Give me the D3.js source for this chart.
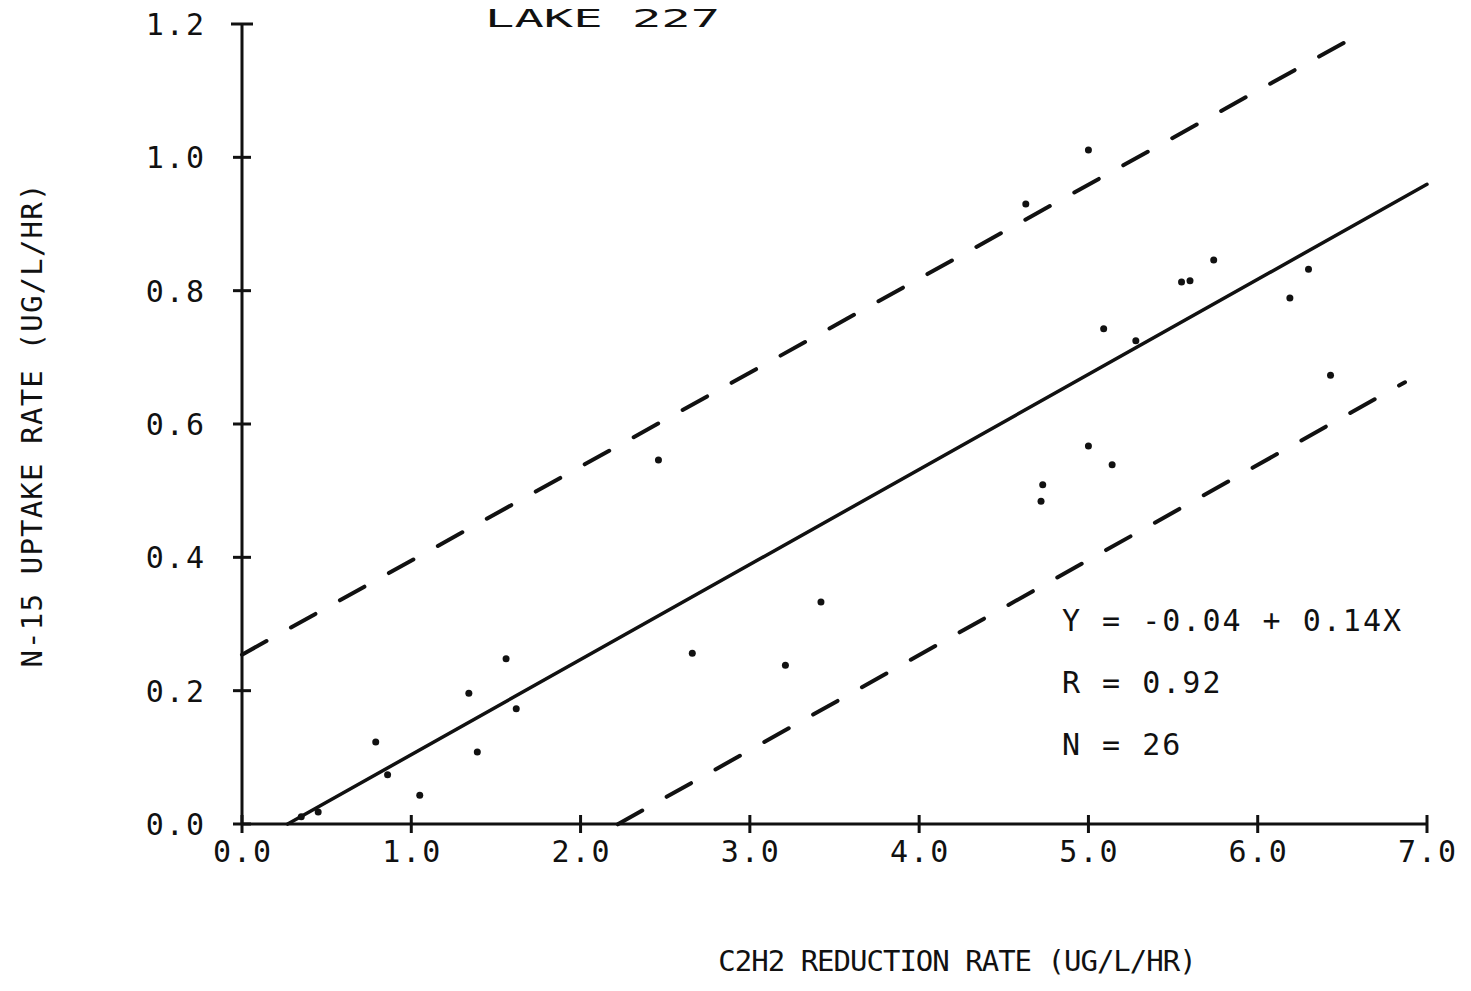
<!DOCTYPE html>
<html>
<head>
<meta charset="utf-8">
<script src="https://cdn.jsdelivr.net/npm/d3@7"></script>
<style>
  body { margin: 0; background: #fff; }
  text { font-family: "DejaVu Sans Mono", monospace; fill: #111; }
</style>
</head>
<body>
<svg id="chart" width="1471" height="991"></svg>
<script>
// data
var xVals = [0.35, 0.45, 0.79, 0.86, 1.05, 1.34, 1.39, 1.56, 1.62,
             2.46, 2.66, 3.21, 3.42,
             4.63, 5.00, 5.74, 5.55, 5.60, 5.09, 5.28, 6.30, 6.19, 6.43,
             5.00, 5.14, 4.73, 4.72]
var yVals = [0.011, 0.018, 0.123, 0.074, 0.043, 0.196, 0.108, 0.248, 0.173,
             0.546, 0.256, 0.238, 0.333,
             0.930, 1.011, 0.846, 0.813, 0.815, 0.743, 0.725, 0.832, 0.789, 0.673,
             0.567, 0.539, 0.509, 0.484]
var xTicks = [0, 1, 2, 3, 4, 5, 6, 7]
var yTicks = [0, 0.2, 0.4, 0.6, 0.8, 1.0, 1.2]

// regression (as drawn) and confidence band
var fit = { a: -0.0386, b: 0.1426, x0: 0.27, x1: 7.0 }
var upper = { a: 0.254, b: 0.141, x0: 0.0, x1: 6.6 }
var lower = { a: -0.317, b: 0.1426, x0: 2.22, x1: 6.87 }
var statLines = ["Y = -0.04 + 0.14X", "R = 0.92", "N = 26"]

var svg = d3.select("#chart")

var x = d3.scaleLinear().domain([0, 7]).range([242, 1427])
var y = d3.scaleLinear().domain([0, 1.2]).range([824, 24])
var fmt = d3.format(".1f")

// y axis
svg.append("line")
  .attr("x1", x(0)).attr("x2", x(0))
  .attr("y1", y(1.2)).attr("y2", y(0))
  .attr("stroke", "#111").attr("stroke-width", 3)

svg.selectAll(".ytick")
  .data(yTicks)
  .enter()
    .append("line")
    .attr("x1", function(d){ return d == 1.2 ? x(0) - 11 : x(0) - 9 })
    .attr("x2", function(d){ return d == 1.2 ? x(0) + 11 : x(0) + 9 })
    .attr("y1", function(d){ return y(d) })
    .attr("y2", function(d){ return y(d) })
    .attr("stroke", "#111").attr("stroke-width", 3)

svg.selectAll(".ylab")
  .data(yTicks)
  .enter()
    .append("text")
    .attr("x", 206)
    .attr("y", function(d){ return y(d) + 11 })
    .attr("text-anchor", "end")
    .attr("font-size", 30)
    .attr("letter-spacing", 2)
    .text(function(d){ return fmt(d) })

// x axis
svg.append("line")
  .attr("x1", x(0)).attr("x2", x(7))
  .attr("y1", y(0)).attr("y2", y(0))
  .attr("stroke", "#111").attr("stroke-width", 3)

svg.selectAll(".xtick")
  .data(xTicks)
  .enter()
    .append("line")
    .attr("x1", function(d){ return x(d) })
    .attr("x2", function(d){ return x(d) })
    .attr("y1", y(0) - 9)
    .attr("y2", y(0) + 9)
    .attr("stroke", "#111").attr("stroke-width", 3)

svg.selectAll(".xlab")
  .data(xTicks)
  .enter()
    .append("text")
    .attr("x", function(d){ return x(d) + 1 })
    .attr("y", 862)
    .attr("text-anchor", "middle")
    .attr("font-size", 30)
    .attr("letter-spacing", 2)
    .text(function(d){ return fmt(d) })

// lines
function seg(l, dashed) {
  svg.append("line")
    .attr("x1", x(l.x0)).attr("y1", y(l.a + l.b * l.x0))
    .attr("x2", x(l.x1)).attr("y2", y(l.a + l.b * l.x1))
    .attr("stroke", "#111").attr("stroke-width", dashed ? 4 : 3.5)
    .attr("stroke-linecap", "round")
    .attr("stroke-dasharray", dashed ? "28,28" : null)
}
seg(fit, false)
seg(upper, true)
seg(lower, true)

// points
svg.selectAll(".pt")
  .data(xVals)
  .enter()
    .append("circle")
    .attr("cx", function(d){ return x(d) })
    .attr("cy", function(d, i){ return y(yVals[i]) })
    .attr("r", 3.5)
    .attr("fill", "#111")

// titles
svg.append("text")
  .attr("x", 485).attr("y", 27)
  .attr("font-size", 24)
  .attr("textLength", 235)
  .attr("lengthAdjust", "spacingAndGlyphs")
  .text("LAKE 227")

svg.append("text")
  .attr("transform", "translate(42,425) rotate(-90)")
  .attr("text-anchor", "middle")
  .attr("font-size", 29)
  .attr("letter-spacing", 1.2)
  .text("N-15 UPTAKE RATE (UG/L/HR)")

svg.append("text")
  .attr("x", 957).attr("y", 971)
  .attr("text-anchor", "middle")
  .attr("font-size", 29)
  .attr("letter-spacing", -1)
  .text("C2H2 REDUCTION RATE (UG/L/HR)")

svg.selectAll(".stat")
  .data(statLines)
  .enter()
    .append("text")
    .attr("x", 1062)
    .attr("y", function(d, i){ return 631 + i * 62 })
    .attr("font-size", 30)
    .attr("letter-spacing", 2)
    .text(function(d){ return d })
</script>
</body>
</html>
